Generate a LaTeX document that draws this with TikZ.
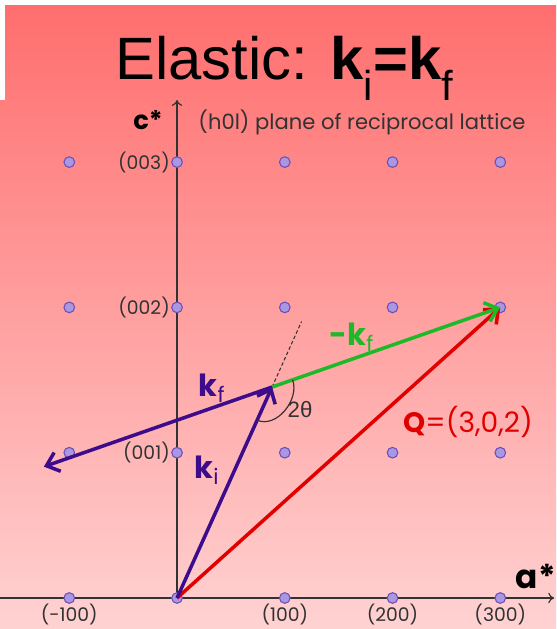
\documentclass[tikz,border=0pt]{standalone}
\usepackage{fontspec}
\setmainfont{Liberation Sans}
\newfontfamily\lblfont{Poppins}
\usetikzlibrary{arrows.meta,positioning,calc}
\definecolor{bgTop}{RGB}{255,110,110}
\definecolor{bgBot}{RGB}{255,210,210}
\definecolor{kPurple}{RGB}{60,12,140}
\definecolor{kGreen}{RGB}{30,185,40}
\definecolor{qRed}{RGB}{225,0,0}
\definecolor{ptFill}{RGB}{170,150,225}
\definecolor{ptEdge}{RGB}{105,80,185}
\definecolor{axisGray}{RGB}{50,50,50}
\tikzset{
  latpt/.style={circle,inner sep=0pt,minimum size=0.32cm,draw=ptEdge,fill=ptFill,line width=0.9pt},
  vec/.style={line width=3pt,-{Straight Barb[length=10pt,width=17pt]}},
  hkl/.style={text=axisGray,font=\lblfont\fontsize{16}{16}\selectfont,inner sep=1pt},
  veclbl/.style={font=\lblfont\fontsize{26}{26}\selectfont},
}

\begin{document}
\begin{tikzpicture}[x=3.2325cm,y=4.359cm]
    \useasboundingbox (-1.643,-0.2133) rectangle (3.5174,4.1156);
    % Background
    \shade[top color=bgTop,bottom color=bgBot] (-1.643,-0.2133) rectangle (3.5174,4.081);
    \fill[white] (-1.643,3.427) rectangle (-1.597,4.1156);
    % Title
    \node[font=\fontsize{51}{51}\selectfont] (title) at (1.0,3.645)
      {Elastic: \textbf{k}\textsubscript{i}\textbf{=k}\textsubscript{f}};
    % Axes
    \coordinate (aL) at (-1.643,0);
    \coordinate (aR) at (3.499,0);
    \coordinate (cB) at (0,-0.034);
    \coordinate (cT) at (0,3.427);
    \draw[axisGray,line width=1pt,-{To[length=5pt,width=9pt]}] (aL) -- (aR);
    \draw[axisGray,line width=1pt,-{To[length=5pt,width=9pt]}] (cB) -- (cT);
    \node[anchor=east,inner sep=0pt,font=\lblfont\bfseries\fontsize{28}{28}\selectfont] (astar) at (3.515,0.151) {a*};
    \node[font=\lblfont\bfseries\fontsize{22}{22}\selectfont] (cstar) at (-0.27,3.290) {c*};
    \node[hkl,anchor=west,font=\lblfont\fontsize{18}{18}\selectfont] (plane) at (0.186,3.27) {(h0l) plane of reciprocal lattice};
    % Lattice points
    \foreach \h in {-1,...,3}
      \foreach \l in {0,...,3}
        \node[latpt] (p\h\l) at (\h,\l) {};
    % Index labels
    \node[hkl,anchor=east] (l003) at (p03.west) {(003)};
    \node[hkl,anchor=east] (l002) at (p02.west) {(002)};
    \node[hkl,anchor=east] (l001) at (p01.west) {(001)};
    \node[hkl,below=-1pt of p-10] (lm100) {(-100)};
    \node[hkl,below=-1pt of p10] (l100) {(100)};
    \node[hkl,below=-1pt of p20] (l200) {(200)};
    \node[hkl,below=-1pt of p30] (l300) {(300)};
    % Scattering triangle
    \coordinate (J) at (0.882,1.452);
    \coordinate (F) at ($2*(J)-(3,2)$);
    \coordinate (D) at ($(p00.center)!1.31!(J)$);
    \draw[axisGray,densely dashed,line width=0.9pt] (J) -- (D);
    \draw[qRed,vec] (p00.center) -- (p32.center);
    \draw[kGreen,vec] (J) -- (p32.center);
    \draw[kPurple,vec] (p00.center) -- (J);
    \draw[kPurple,vec] (J) -- (F);
    % 2theta
    \draw[axisGray,line width=1pt] ($(J)!0.09!(p32.center)$) to[out=-70,in=-24] ($(J)!0.157!(p00.center)$);
    \node[text=axisGray,font=\fontsize{19}{19}\selectfont] (tth) at (1.142,1.294) {2θ};
    % Vector labels
    \node[veclbl,text=kPurple] (kf) at (0.325,1.445) {\textbf{k}\textsubscript{f}};
    \node[veclbl,text=kPurple] (ki) at (0.278,0.881) {\textbf{k}\textsubscript{i}};
    \node[veclbl,text=kGreen] (mkf) at (1.624,1.796) {\textbf{-k}\textsubscript{f}};
    \node[veclbl,text=qRed,font=\lblfont\fontsize{24}{24}\selectfont] (qlbl) at (2.701,1.211) {\textbf{Q}=(3,0,2)};
\end{tikzpicture}
\end{document}
